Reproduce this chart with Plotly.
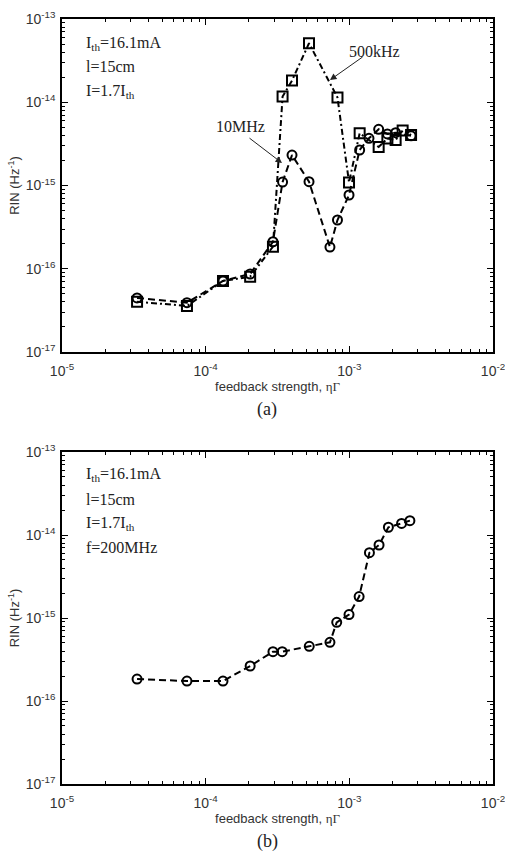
import plotly.graph_objects as go

# ---- data (a) ----
x_10mhz = [3.33e-5, 7.41e-5, 1.32e-4, 2.04e-4, 2.94e-4, 3.43e-4, 3.99e-4, 5.24e-4, 7.33e-4,
           8.27e-4, 9.95e-4, 1.18e-3, 1.37e-3, 1.60e-3, 1.84e-3, 2.10e-3, 2.69e-3]
y_10mhz = [4.46e-17, 3.91e-17, 7.13e-17, 8.65e-17, 2.11e-16, 1.10e-15, 2.32e-15, 1.11e-15, 1.82e-16,
           3.85e-16, 7.69e-16, 2.67e-15, 3.69e-15, 4.73e-15, 4.16e-15, 4.31e-15, 3.96e-15]

x_500khz = [3.33e-5, 7.41e-5, 1.32e-4, 2.04e-4, 2.94e-4, 3.43e-4, 3.99e-4, 5.24e-4, 8.27e-4,
            9.95e-4, 1.18e-3, 1.60e-3, 1.84e-3, 2.10e-3, 2.35e-3, 2.69e-3]
y_500khz = [4.02e-17, 3.57e-17, 7.13e-17, 8.03e-17, 1.84e-16, 1.17e-14, 1.82e-14, 5.11e-14, 1.14e-14,
            1.09e-15, 4.24e-15, 2.90e-15, 3.67e-15, 3.52e-15, 4.58e-15, 4.04e-15]

# ---- data (b) ----
x_200mhz = [3.33e-5, 7.41e-5, 1.32e-4, 2.04e-4, 2.94e-4, 3.41e-4, 5.26e-4, 7.33e-4, 8.17e-4,
            9.95e-4, 1.17e-3, 1.38e-3, 1.61e-3, 1.87e-3, 2.31e-3, 2.64e-3]
y_200mhz = [1.84e-16, 1.74e-16, 1.74e-16, 2.64e-16, 3.93e-16, 3.93e-16, 4.56e-16, 5.09e-16, 8.87e-16,
            1.10e-15, 1.81e-15, 6.12e-15, 7.58e-15, 1.24e-14, 1.38e-14, 1.49e-14]

x_tickvals = [1e-5, 1e-4, 1e-3, 1e-2]
x_ticktext = ["10<sup>-5</sup>", "10<sup>-4</sup>", "10<sup>-3</sup>", "10<sup>-2</sup>"]
y_tickvals = [1e-17, 1e-16, 1e-15, 1e-14, 1e-13]
y_ticktext = ["10<sup>-17</sup>", "10<sup>-16</sup>", "10<sup>-15</sup>", "10<sup>-14</sup>", "10<sup>-13</sup>"]

x_minor = [m * 10.0 ** e for e in range(-5, -2) for m in range(2, 10)]
y_minor = [m * 10.0 ** e for e in range(-17, -13) for m in range(2, 10)]

W, H = 505, 858
xdom = [62 / W, 493 / W]
ydom_a = [1 - 352 / H, 1 - 19 / H]
ydom_b = [1 - 784 / H, 1 - 452 / H]

fig = go.Figure()

circle = dict(symbol="circle-open", size=9, color="black", line=dict(width=2, color="black"))
square = dict(symbol="square-open", size=10, color="black", line=dict(width=2, color="black"))

fig.add_trace(go.Scatter(x=x_500khz, y=y_500khz, mode="lines+markers", xaxis="x", yaxis="y",
                         line=dict(color="black", width=2, dash="6px,3px,2px,3px"), marker=square,
                         showlegend=False))
fig.add_trace(go.Scatter(x=x_10mhz, y=y_10mhz, mode="lines+markers", xaxis="x", yaxis="y",
                         line=dict(color="black", width=2, dash="7px,4px"), marker=circle, showlegend=False))
fig.add_trace(go.Scatter(x=x_200mhz, y=y_200mhz, mode="lines+markers", xaxis="x2", yaxis="y2",
                         line=dict(color="black", width=2, dash="7px,4px"), marker=circle, showlegend=False))

tickfont = dict(family="Liberation Sans, Arial, sans-serif", size=14, color="#333")
titlefont = dict(family="Liberation Sans, Arial, sans-serif", size=13, color="#333")

def xax(anchor, dom):
    return dict(type="log", domain=dom, anchor=anchor, range=[-5, -2], automargin=False,
                tickmode="array", tickvals=x_tickvals, ticktext=x_ticktext, ticklabeloverflow="allow",
                ticks="inside", ticklen=6, tickwidth=1, tickcolor="black", ticklabelstandoff=5,
                minor=dict(tickmode="array", tickvals=x_minor, ticks="inside", ticklen=3,
                           tickcolor="black", showgrid=False),
                showline=True, linecolor="black", linewidth=1.5, mirror="ticks",
                showgrid=False, zeroline=False, tickfont=tickfont,
                title=dict(text="feedback strength, <span style='font-family:Liberation Serif'>ηΓ</span>",
                           font=titlefont, standoff=4))

def yax(anchor, dom):
    return dict(type="log", domain=dom, anchor=anchor, range=[-17, -13], automargin=False,
                tickmode="array", tickvals=y_tickvals, ticktext=y_ticktext, ticklabeloverflow="allow",
                ticks="inside", ticklen=6, tickwidth=1, tickcolor="black", ticklabelstandoff=2,
                minor=dict(tickmode="array", tickvals=y_minor, ticks="inside", ticklen=3,
                           tickcolor="black", showgrid=False),
                showline=True, linecolor="black", linewidth=1.5, mirror="ticks",
                showgrid=False, zeroline=False, tickfont=tickfont,
                title=dict(text="RIN (Hz<sup>-1</sup>)", font=titlefont, standoff=3))

fig.update_layout(
    width=W, height=H, margin=dict(l=0, r=0, t=0, b=0, autoexpand=False),
    paper_bgcolor="white", plot_bgcolor="white",
    xaxis=xax("y", xdom), yaxis=yax("x", ydom_a),
    xaxis2=xax("y2", xdom), yaxis2=yax("x2", ydom_b),
)

serif = dict(family="Liberation Serif, Times New Roman, serif", size=16, color="#222")
ann = []
for i, t in enumerate(["I<sub>th</sub>=16.1mA", "l=15cm", "I=1.7I<sub>th</sub>"]):
    ann.append(dict(xref="paper", yref="paper", x=84 / W, y=1 - (43 + 24 * i) / H, text=t,
                    showarrow=False, xanchor="left", yanchor="middle", font=serif))
for i, t in enumerate(["I<sub>th</sub>=16.1mA", "l=15cm", "I=1.7I<sub>th</sub>", "f=200MHz"]):
    ann.append(dict(xref="paper", yref="paper", x=84 / W, y=1 - (475 + 24 * i) / H, text=t,
                    showarrow=False, xanchor="left", yanchor="middle", font=serif))

# arrow labels
ann.append(dict(xref="paper", yref="paper", x=330 / W, y=1 - 80 / H, ax=34, ay=-24,
                text="", showarrow=True, arrowhead=2, arrowsize=1.3,
                arrowwidth=1, arrowcolor="#222"))
ann.append(dict(xref="paper", yref="paper", x=374 / W, y=1 - 51 / H, text="500kHz",
                showarrow=False, xanchor="center", yanchor="middle", font=serif))
ann.append(dict(xref="paper", yref="paper", x=282 / W, y=1 - 163 / H, ax=-34, ay=-26,
                text="", showarrow=True, arrowhead=2, arrowsize=1.3,
                arrowwidth=1, arrowcolor="#222"))
ann.append(dict(xref="paper", yref="paper", x=240 / W, y=1 - 126 / H, text="10MHz",
                showarrow=False, xanchor="center", yanchor="middle", font=serif))

capfont = dict(family="Liberation Serif, Times New Roman, serif", size=18, color="#222")
ann.append(dict(xref="paper", yref="paper", x=267 / W, y=1 - 409 / H, text="(a)",
                showarrow=False, xanchor="center", yanchor="middle", font=capfont))
ann.append(dict(xref="paper", yref="paper", x=267 / W, y=1 - 841 / H, text="(b)",
                showarrow=False, xanchor="center", yanchor="middle", font=capfont))

fig.update_layout(annotations=ann)
fig.write_html("out.html")
